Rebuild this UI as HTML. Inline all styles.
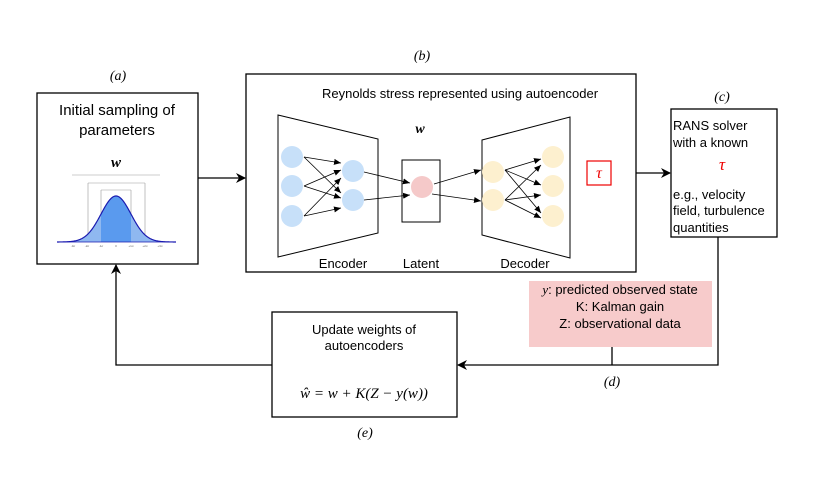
<!DOCTYPE html>
<html><head><meta charset="utf-8"><style>
body{margin:0;background:#fff;}
svg{display:block;font-family:"Liberation Sans",sans-serif;}
.m{font-family:"Liberation Serif",serif;font-style:italic;}
</style></head><body>
<svg width="830" height="488" viewBox="0 0 830 488">
<defs>
<marker id="ar" markerWidth="10" markerHeight="10" refX="9" refY="5" orient="auto" markerUnits="userSpaceOnUse"><path d="M0,0 L10,5 L0,10 L3,5 z" fill="#000"/></marker>
<marker id="as" markerWidth="7" markerHeight="7" refX="7" refY="3.5" orient="auto" markerUnits="userSpaceOnUse"><path d="M0,0.5 L7,3.5 L0,6.5 z" fill="#000"/></marker>
</defs>
<g stroke="#000" stroke-width="1.3" fill="none">
<rect x="37" y="93" width="161" height="171"/>
<rect x="246" y="74" width="390" height="198"/>
<rect x="671" y="109" width="106" height="128"/>
<rect x="272" y="312" width="185" height="105"/>
</g>
<text x="118" y="80" class="m" font-size="14" text-anchor="middle">(a)</text>
<text x="422" y="60" class="m" font-size="14" text-anchor="middle">(b)</text>
<text x="722" y="101" class="m" font-size="14" text-anchor="middle">(c)</text>
<text x="612" y="386" class="m" font-size="14" text-anchor="middle">(d)</text>
<text x="365" y="437" class="m" font-size="14" text-anchor="middle">(e)</text>
<text x="117" y="115" font-size="15" text-anchor="middle">Initial sampling of</text>
<text x="117" y="135" font-size="15" text-anchor="middle">parameters</text>
<text x="116" y="167" class="m" font-size="15" font-weight="bold" text-anchor="middle">w</text>
<g stroke="#999" stroke-width="0.6">
<line x1="72" y1="175" x2="160" y2="175"/>
<line x1="88" y1="183" x2="145" y2="183"/>
<line x1="101" y1="190" x2="131" y2="190"/>
<line x1="88" y1="183" x2="88" y2="242"/><line x1="145" y1="183" x2="145" y2="242"/>
<line x1="101" y1="190" x2="101" y2="242"/><line x1="131" y1="190" x2="131" y2="242"/>
</g>
<path id="g1" fill="#8fb8f0" stroke="none"/>
<path id="g2" fill="#5a9aee" stroke="none"/>
<path id="gc" fill="none" stroke="#1a1ab0" stroke-width="1.2"/>
<line x1="57" y1="242" x2="176" y2="242" stroke="#1a1ab0" stroke-width="0.8"/>
<g font-size="3" fill="#666" text-anchor="middle"><text x="73" y="247">-3σ</text><text x="87" y="247">-2σ</text><text x="101" y="247">-1σ</text><text x="116" y="247">0</text><text x="131" y="247">+1σ</text><text x="145" y="247">+2σ</text><text x="160" y="247">+3σ</text></g>
<text x="460" y="98" font-size="13" text-anchor="middle">Reynolds stress represented using autoencoder</text>
<text x="420" y="133" class="m" font-size="14" font-weight="bold" text-anchor="middle">w</text>
<g stroke="#000" stroke-width="1" fill="none">
<path d="M278,115 L378,139 L378,233 L278,257 z"/>
<path d="M482,140 L570,117 L570,258 L482,235 z"/>
<rect x="402" y="160" width="38" height="62"/>
</g>
<g fill="#c7e0f9"><circle cx="292" cy="157" r="11"/><circle cx="292" cy="186" r="11"/><circle cx="292" cy="216" r="11"/><circle cx="353" cy="171" r="11"/><circle cx="353" cy="200" r="11"/></g>
<circle cx="422" cy="187" r="11" fill="#f5c9c9"/>
<g fill="#fdf0cf"><circle cx="493" cy="172" r="11"/><circle cx="493" cy="200" r="11"/><circle cx="553" cy="157" r="11"/><circle cx="553" cy="186" r="11"/><circle cx="553" cy="216" r="11"/></g>
<g stroke="#000" stroke-width="0.8" marker-end="url(#as)">
<line x1="304" y1="157" x2="341" y2="163"/><line x1="304" y1="157" x2="341" y2="193"/>
<line x1="304" y1="186" x2="341" y2="170"/><line x1="304" y1="186" x2="341" y2="198"/>
<line x1="304" y1="216" x2="341" y2="178"/><line x1="304" y1="216" x2="341" y2="208"/>
<line x1="364" y1="172" x2="410" y2="183"/><line x1="364" y1="200" x2="410" y2="195"/>
<line x1="434" y1="184" x2="481" y2="170"/><line x1="432" y1="194" x2="481" y2="201"/>
<line x1="505" y1="170" x2="541" y2="159"/><line x1="505" y1="170" x2="541" y2="185"/><line x1="505" y1="170" x2="541" y2="213"/>
<line x1="505" y1="200" x2="541" y2="165"/><line x1="505" y1="200" x2="541" y2="195"/><line x1="505" y1="200" x2="541" y2="218"/>
</g>
<rect x="587" y="161" width="24" height="24" fill="none" stroke="#e00" stroke-width="1.2"/>
<text x="599" y="178" class="m" font-size="16" fill="#e00" text-anchor="middle">τ</text>
<text x="343" y="268" font-size="13" text-anchor="middle">Encoder</text>
<text x="421" y="268" font-size="13" text-anchor="middle">Latent</text>
<text x="525" y="268" font-size="13" text-anchor="middle">Decoder</text>
<g font-size="13"><text x="673" y="130">RANS solver</text><text x="673" y="147">with a known</text>
<text x="673" y="199">e.g., velocity</text><text x="673" y="215">field, turbulence</text><text x="673" y="232">quantities</text></g>
<text x="722" y="170" class="m" font-size="17" fill="#e00" text-anchor="middle">τ</text>
<rect x="529" y="281" width="183" height="66" fill="#f7cbcb"/>
<g font-size="13" text-anchor="middle"><text x="620" y="294"><tspan class="m">y</tspan>: predicted observed state</text><text x="620" y="311">K: Kalman gain</text><text x="620" y="328">Z: observational data</text></g>
<g stroke="#000" stroke-width="1.3" fill="none">
<line x1="198" y1="178" x2="245" y2="178" marker-end="url(#ar)"/>
<line x1="636" y1="173" x2="670" y2="173" marker-end="url(#ar)"/>
<polyline points="718,237 718,365 458,365" marker-end="url(#ar)"/>
<line x1="612" y1="347" x2="612" y2="365"/>
<polyline points="272,365 116,365 116,265" marker-end="url(#ar)"/>
</g>
<text x="364" y="334" font-size="13" text-anchor="middle">Update weights of</text>
<text x="364" y="350" font-size="13" text-anchor="middle">autoencoders</text>
<text x="364" y="398" class="m" font-size="15" text-anchor="middle">ŵ = w + K(Z − y(w))</text>
</svg>
<script>
function f(x){var s=15;return 242-46*Math.exp(-Math.pow((x-116)/s,2)/2);}
function area(a,b){var d="M"+a+",242";for(var x=a;x<=b;x+=0.5)d+=" L"+x+","+f(x).toFixed(2);return d+" L"+b+",242 Z";}
document.getElementById("g1").setAttribute("d",area(57,176));
document.getElementById("g2").setAttribute("d",area(101,131));
var d="M57,"+f(57).toFixed(2);for(var x=57;x<=176;x+=0.5)d+=" L"+x+","+f(x).toFixed(2);
document.getElementById("gc").setAttribute("d",d);
</script>
</body></html>
